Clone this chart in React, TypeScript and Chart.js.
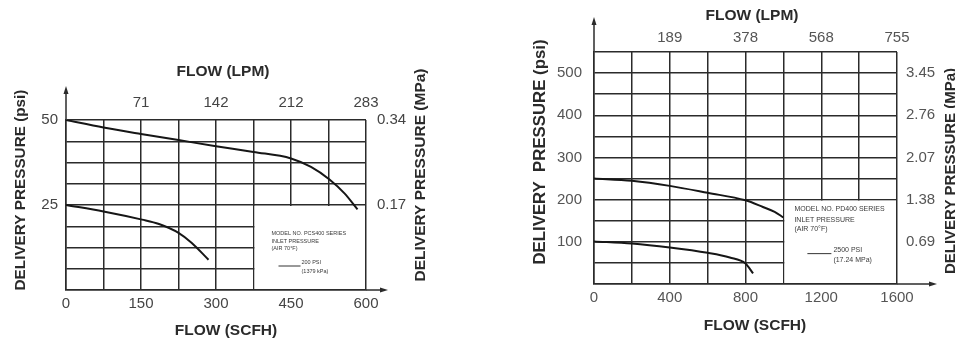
import React, { useEffect, useRef } from 'react';
import { Chart, registerables } from 'chart.js';
Chart.register(...registerables);

const FONT = '"Liberation Sans", Arial, Helvetica, sans-serif';

// ---- Left panel data (SCFH vs psi) ----
const leftHighFlow = [0, 75, 150, 225, 300, 375, 450, 490, 527, 557, 583];
const leftHighPsi = [50, 47.8, 45.9, 44.1, 42.3, 40.6, 38.7, 36.2, 32.5, 28.4, 23.7];
const leftLowFlow = [0, 75, 152, 186, 225, 251, 285];
const leftLowPsi = [25, 23.1, 20.7, 19.4, 16.8, 13.9, 8.9];
const leftScfhTicks = [0, 150, 300, 450, 600];
const leftLpmTickPos = [150, 300, 450, 600];
const leftLpmLabels = ['71', '142', '212', '283'];
const leftPsiTicks = [25, 50];
const leftMpaLabels = ['0.17', '0.34'];

// ---- Right panel data (SCFH vs psi) ----
const rightHighFlow = [0, 200, 400, 600, 800, 892, 954, 1000];
const rightHighPsi = [250, 244.5, 232.6, 216.1, 198.4, 182.6, 171, 157.7];
const rightLowFlow = [0, 200, 400, 600, 717, 800, 840];
const rightLowPsi = [101, 96, 86.6, 74, 63, 48.7, 25];
const rightScfhTicks = [0, 400, 800, 1200, 1600];
const rightLpmTickPos = [400, 800, 1200, 1600];
const rightLpmLabels = ['189', '378', '568', '755'];
const rightPsiTicks = [100, 200, 300, 400, 500];
const rightMpaLabels = ['0.69', '1.38', '2.07', '2.76', '3.45'];

const GRID = '#2b2b2b';
const CURVE = '#161616';

const decorPlugin = {
  id: 'decor',
  beforeDatasetsDraw(chart: any, _a: any, opts: any) {
    const { ctx } = chart;
    const x = chart.scales.x, y = chart.scales.y;
    const b = opts.box;
    if (!b) return;
    const x0 = x.getPixelForValue(b.x0), x1 = x.getPixelForValue(b.x1);
    const y0 = y.getPixelForValue(b.y1), y1 = y.getPixelForValue(b.y0);
    ctx.save();
    ctx.fillStyle = '#fff';
    ctx.fillRect(x0 + 1, y0 + 1, x1 - x0 - 2, y1 - y0 - 2);
    ctx.fillStyle = '#3a3a3a';
    ctx.font = `${b.fontSize}px ${FONT}`;
    ctx.textBaseline = 'middle';
    ctx.textAlign = 'left';
    b.lines.forEach((l: any) => ctx.fillText(l.text, x0 + l.dx, y0 + l.dy));
    ctx.strokeStyle = '#333';
    ctx.lineWidth = 1;
    ctx.beginPath();
    ctx.moveTo(x0 + b.sample[0], y0 + b.sample[2]);
    ctx.lineTo(x0 + b.sample[1], y0 + b.sample[2]);
    ctx.stroke();
    ctx.restore();
  },
  afterDraw(chart: any, _a: any, opts: any) {
    const { ctx, chartArea } = chart;
    const L = chartArea.left, B = chartArea.bottom, T = chartArea.top, R = chartArea.right;
    ctx.save();
    ctx.strokeStyle = GRID;
    ctx.fillStyle = GRID;
    ctx.lineWidth = 1.5;
    // y arrow
    ctx.beginPath();
    ctx.moveTo(L, T);
    ctx.lineTo(L, opts.arrowTop + 6);
    ctx.stroke();
    ctx.beginPath();
    ctx.moveTo(L, opts.arrowTop);
    ctx.lineTo(L - 2.5, opts.arrowTop + 8);
    ctx.lineTo(L + 2.5, opts.arrowTop + 8);
    ctx.closePath();
    ctx.fill();
    // x arrow
    ctx.beginPath();
    ctx.moveTo(R, B);
    ctx.lineTo(opts.arrowRight - 6, B);
    ctx.stroke();
    ctx.beginPath();
    ctx.moveTo(opts.arrowRight, B);
    ctx.lineTo(opts.arrowRight - 8, B - 2.5);
    ctx.lineTo(opts.arrowRight - 8, B + 2.5);
    ctx.closePath();
    ctx.fill();
    // titles
    ctx.fillStyle = '#2a2a2a';
    ctx.textAlign = 'center';
    ctx.textBaseline = 'middle';
    (opts.titles || []).forEach((t: any) => {
      ctx.save();
      ctx.font = `bold ${t.size}px ${FONT}`;
      ctx.translate(t.x, t.y);
      if (t.rot) ctx.rotate(t.rot);
      ctx.fillText(t.text, 0, 0);
      ctx.restore();
    });
    ctx.restore();
  },
};

function pts(xs: number[], ys: number[]) {
  return xs.map((x, i) => ({ x, y: ys[i] }));
}

function buildConfig(p: any): any {
  const tickFont = { family: FONT, size: 15 };
  const ds = (data: any) => ({
    data,
    borderColor: CURVE,
    borderWidth: 2,
    pointRadius: 0,
    fill: false,
    cubicInterpolationMode: 'monotone',
  });
  return {
    type: 'line',
    data: { datasets: [ds(p.high), ds(p.low)] },
    plugins: [decorPlugin],
    options: {
      responsive: false,
      animation: false,
      events: [],
      layout: { padding: p.padding },
      plugins: {
        legend: { display: false },
        tooltip: { enabled: false },
        decor: p.decor,
      },
      scales: {
        x: {
          type: 'linear',
          position: 'bottom',
          min: 0,
          max: p.xMax,
          afterBuildTicks: (s: any) => {
            const t = [];
            for (let v = 0; v <= p.xMax + 1e-9; v += p.xStep) t.push({ value: v });
            s.ticks = t;
          },
          ticks: {
            autoSkip: false,
            maxRotation: 0,
            padding: p.xPad,
            color: p.tickColor,
            font: tickFont,
            callback: (v: number) => (p.xLabels.includes(v) ? String(v) : ''),
          },
          grid: { color: GRID, lineWidth: 1.5, drawTicks: false },
          border: { color: GRID, width: 1.5 },
          afterFit: (s: any) => { s.height = 30; },
        },
        x2: {
          type: 'linear',
          position: 'top',
          min: 0,
          max: p.xMax,
          afterBuildTicks: (s: any) => { s.ticks = p.topPos.map((v: number) => ({ value: v })); },
          ticks: {
            autoSkip: false,
            maxRotation: 0,
            padding: p.x2Pad,
            color: p.tickColor,
            font: tickFont,
            callback: (_v: number, i: number) => p.topLabels[i],
          },
          grid: { display: false, drawTicks: false },
          border: { display: false },
          afterFit: (s: any) => { s.height = 30; },
        },
        y: {
          type: 'linear',
          position: 'left',
          min: 0,
          max: p.yMax,
          afterBuildTicks: (s: any) => {
            const t = [];
            for (let v = 0; v <= p.yMax + 1e-9; v += p.yStep) t.push({ value: v });
            s.ticks = t;
          },
          ticks: {
            autoSkip: false,
            padding: p.yPad,
            color: p.tickColor,
            font: tickFont,
            callback: (v: number) => (p.yLabels.includes(v) ? String(v) : ''),
          },
          grid: { color: GRID, lineWidth: 1.5, drawTicks: false },
          border: { color: GRID, width: 1.5 },
          afterFit: (s: any) => { s.width = p.yWidth; },
        },
        y2: {
          type: 'linear',
          position: 'right',
          min: 0,
          max: p.yMax,
          afterBuildTicks: (s: any) => { s.ticks = p.yLabels.map((v: number) => ({ value: v })); },
          ticks: {
            autoSkip: false,
            padding: p.y2Pad,
            color: p.tickColor,
            font: tickFont,
            callback: (_v: number, i: number) => p.rightLabels[i],
          },
          grid: { display: false, drawTicks: false },
          border: { display: false },
          afterFit: (s: any) => { s.width = p.y2Width; },
        },
      },
    },
  };
}

const leftSpec = {
  high: pts(leftHighFlow, leftHighPsi),
  low: pts(leftLowFlow, leftLowPsi),
  xMax: 600, xStep: 75, xLabels: leftScfhTicks,
  topPos: leftLpmTickPos, topLabels: leftLpmLabels,
  yMax: 50, yStep: 6.25, yLabels: leftPsiTicks, rightLabels: leftMpaLabels,
  xPad: 5, x2Pad: 8, yPad: 8, y2Pad: 11,
  yWidth: 66, y2Width: 60,
  padding: { left: 0, right: 44, top: 90, bottom: 27 },
  tickColor: '#444',
  decor: {
    arrowTop: 86,
    arrowRight: 388,
    box: {
      x0: 375, x1: 600, y0: 0, y1: 25, fontSize: 5.5,
      lines: [
        { text: 'MODEL NO. PCS400 SERIES', dx: 18, dy: 28 },
        { text: 'INLET PRESSURE', dx: 18, dy: 36 },
        { text: '(AIR 70°F)', dx: 18, dy: 43 },
        { text: '200 PSI', dx: 48, dy: 57 },
        { text: '(1379 kPa)', dx: 48, dy: 66 },
      ],
      sample: [25, 47, 61],
    },
    titles: [
      { text: 'FLOW (LPM)', x: 223, y: 72, size: 15.5 },
      { text: 'FLOW (SCFH)', x: 226, y: 331, size: 15.5 },
      { text: 'DELIVERY PRESSURE (psi)', x: 21, y: 190, size: 15.3, rot: -Math.PI / 2 },
      { text: 'DELIVERY PRESSURE (MPa)', x: 421, y: 175, size: 15.5, rot: -Math.PI / 2 },
    ],
  },
};

const rightSpec = {
  high: pts(rightHighFlow, rightHighPsi),
  low: pts(rightLowFlow, rightLowPsi),
  xMax: 1600, xStep: 200, xLabels: rightScfhTicks,
  topPos: rightLpmTickPos, topLabels: rightLpmLabels,
  yMax: 550, yStep: 50, yLabels: rightPsiTicks, rightLabels: rightMpaLabels,
  xPad: 5, x2Pad: 5, yPad: 12, y2Pad: 9,
  yWidth: 124, y2Width: 40,
  padding: { left: 0, right: 18, top: 22, bottom: 33 },
  tickColor: '#555',
  decor: {
    arrowTop: 17,
    arrowRight: 467,
    box: {
      x0: 1000, x1: 1600, y0: 0, y1: 200, fontSize: 7,
      lines: [
        { text: 'MODEL NO. PD400 SERIES', dx: 11, dy: 9 },
        { text: 'INLET PRESSURE', dx: 11, dy: 20 },
        { text: '(AIR 70°F)', dx: 11, dy: 29 },
        { text: '2500 PSI', dx: 50, dy: 50 },
        { text: '(17.24 MPa)', dx: 50, dy: 60 },
      ],
      sample: [24, 48, 54],
    },
    titles: [
      { text: 'FLOW (LPM)', x: 282, y: 16, size: 15.5 },
      { text: 'FLOW (SCFH)', x: 285, y: 326, size: 15.5 },
      { text: 'DELIVERY  PRESSURE (psi)', x: 70, y: 152, size: 16.8, rot: -Math.PI / 2 },
      { text: 'DELIVERY PRESSURE (MPa)', x: 481, y: 171, size: 15, rot: -Math.PI / 2 },
    ],
  },
};

function Panel({ spec, left, width }: { spec: any; left: number; width: number }) {
  const ref = useRef<HTMLCanvasElement>(null);
  useEffect(() => {
    if (!ref.current) return;
    const chart = new Chart(ref.current, buildConfig(spec));
    return () => chart.destroy();
  }, [spec]);
  return (
    <canvas
      ref={ref}
      width={width}
      height={347}
      style={{ position: 'absolute', left, top: 0, width, height: 347, display: 'block' }}
    />
  );
}

export default function App() {
  return (
    <div style={{ position: 'absolute', left: 0, top: 0, width: 955, height: 347, background: '#fff', overflow: 'hidden' }}>
      <Panel spec={leftSpec} left={0} width={470} />
      <Panel spec={rightSpec} left={470} width={485} />
    </div>
  );
}
